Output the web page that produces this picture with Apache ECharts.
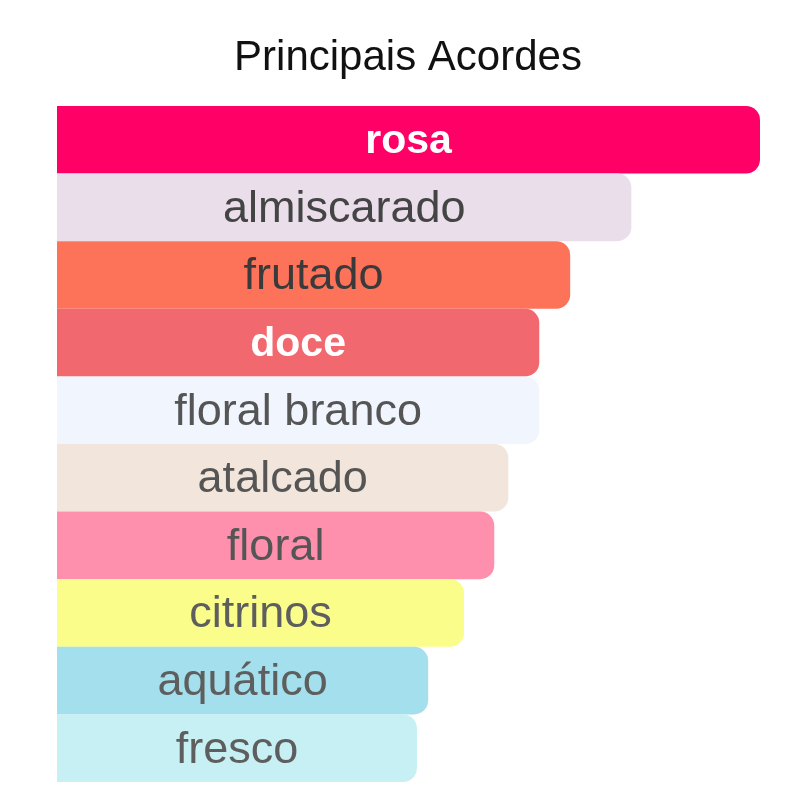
<!DOCTYPE html>
<html>
<head>
<meta charset="utf-8">
<script src="https://cdn.jsdelivr.net/npm/echarts@6/dist/echarts.min.js"></script>
<style>
html, body { margin: 0; padding: 0; background: #fff; }
#chart { width: 800px; height: 800px; }
</style>
</head>
<body>
<div id="chart"></div>
<script>
var categories = ['rosa', 'almiscarado', 'frutado', 'doce', 'floral branco', 'atalcado', 'floral', 'citrinos', 'aquático', 'fresco'];
var values = [100, 81.7, 73.0, 68.6, 68.6, 64.2, 62.2, 57.9, 52.8, 51.2];
var barColors = ['#ff0066', '#eadeeb', '#fd735a', '#f2686f', '#f1f5fd', '#f2e6dc', '#fe8fad', '#fafd8a', '#a3dfec', '#c6f0f4'];
var labelColors = ['#fff', '#444', '#3a3a3a', '#fff', '#555', '#555', '#555', '#5e5e5e', '#5e5e5e', '#5e5e5e'];

var chart = echarts.init(document.getElementById('chart'));

var seriesData = values.map(function(v, i) {
	var light = labelColors[i] === '#fff';
	return {
		value: v,
		itemStyle: { color: barColors[i] },
		label: {
			color: labelColors[i],
			fontWeight: light ? 'bold' : 'normal',
			fontSize: light ? 41 : 45
		}
	};
});

chart.setOption({
	animation: false,
	title: {
		text: 'Principais Acordes',
		left: 403,
		textAlign: 'center',
		top: 32,
		textStyle: {
			fontFamily: 'Liberation Sans',
			fontSize: 42,
			fontWeight: 'normal',
			color: '#111'
		}
	},
	grid: { left: 57, right: 40, top: 106, bottom: 18 },
	xAxis: {
		type: 'value',
		min: 0,
		max: 100,
		show: false
	},
	yAxis: {
		type: 'category',
		data: categories,
		inverse: true,
		show: false
	},
	series: [{
		type: 'bar',
		data: seriesData,
		barCategoryGap: '0%',
		itemStyle: { borderRadius: [0, 14, 14, 0] },
		label: {
			show: true,
			position: 'inside',
			formatter: '{b}',
			offset: [0, 2],
			fontFamily: 'Liberation Sans',
			fontSize: 45
		}
	}]
});
</script>
</body>
</html>
